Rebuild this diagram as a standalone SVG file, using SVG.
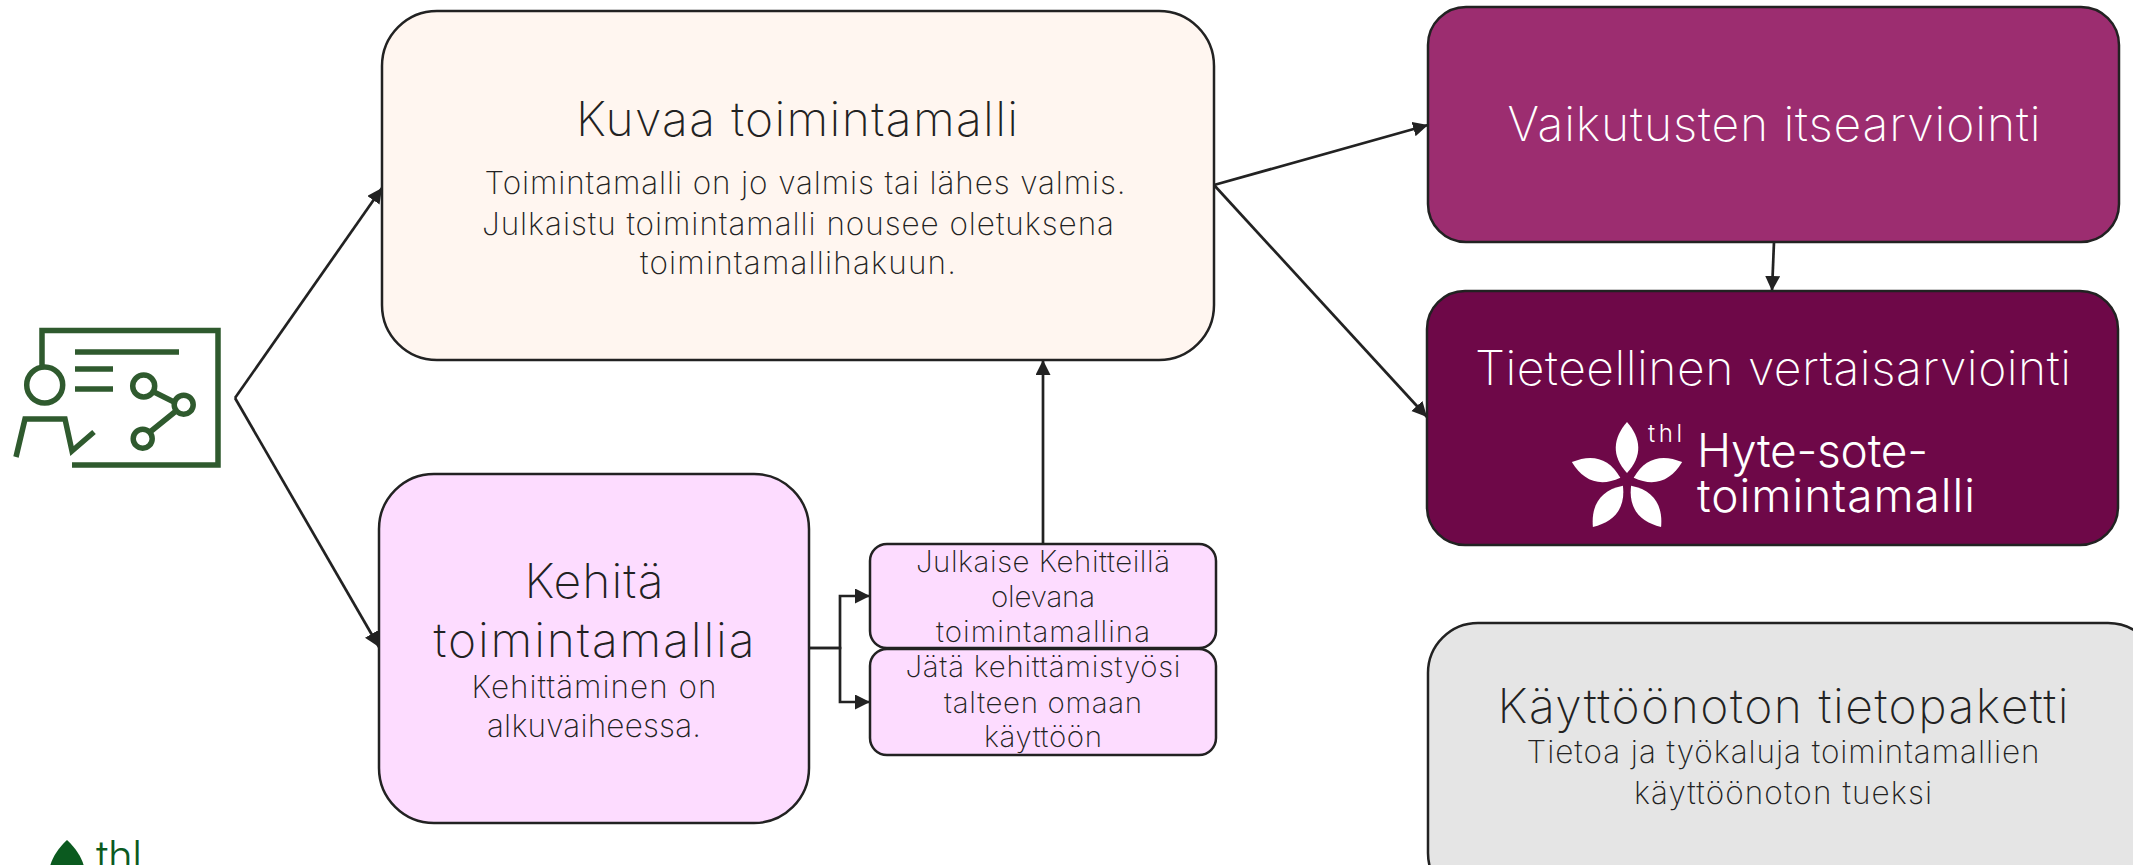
<svg xmlns="http://www.w3.org/2000/svg" width="2133" height="865" viewBox="0 0 2133 865">
<defs>
<style>
text{font-family:"Inter","Liberation Sans",sans-serif;font-weight:200;text-anchor:middle;fill:#222}
.h{font-size:48px}.b{font-size:31.500px}.s{font-size:29.500px}
.w{fill:#fff}
.box{stroke:#222;stroke-width:2.5}
.c{fill:none;stroke:#222;stroke-width:2.7}
.ic{fill:none;stroke:#2f5a2e;stroke-width:5.5}
.logo{text-anchor:start;font-weight:300}
</style>
<marker id="arr" markerUnits="userSpaceOnUse" markerWidth="16" markerHeight="16" refX="15" refY="7.5" orient="auto"><path d="M0 0L15 7.5L0 15Z" fill="#222"/></marker>
<path id="petal" d="M0 -7C-16 -24 -14 -42 0 -58C14 -42 16 -24 0 -7Z" fill="#fff"/>
</defs>
<rect width="2133" height="865" fill="#fff"/>
<g id="connectors">
<path class="c" d="M235 398L379 647" marker-end="url(#arr)"/>
<path class="c" d="M235 398L382 188" marker-end="url(#arr)"/>
<path class="c" d="M1214 185L1428 125" marker-end="url(#arr)"/>
<path class="c" d="M1214 185L1427 417" marker-end="url(#arr)"/>
<path class="c" d="M1774 242L1772 291" marker-end="url(#arr)"/>
<path class="c" d="M1043 544V360" marker-end="url(#arr)"/>
<path class="c" d="M809 648H840V596H870" marker-end="url(#arr)"/>
<path class="c" d="M809 648H840V702H870" marker-end="url(#arr)"/>
</g>
<g id="icon">
<path class="ic" d="M42 366V330.500H218V465H72"/>
<circle class="ic" cx="44.700" cy="385" r="18"/>
<path class="ic" d="M75 352H179M75 369H113M75 389H113"/>
<circle class="ic" cx="143.700" cy="386" r="11"/>
<circle class="ic" cx="183.700" cy="404.700" r="9.500"/>
<circle class="ic" cx="142.700" cy="438.700" r="9.500"/>
<path class="ic" d="M154 392L174 402M176 411L150 432"/>
<path class="ic" d="M16 457L25 419H65L72 451L94 432"/>
</g>
<g id="kuvaa">
<rect class="box" x="382" y="11" width="832" height="349" rx="55" fill="#fff6f0"/>
<text class="h" x="797" y="136" textLength="442">Kuvaa toimintamalli</text>
<text class="b" x="805" y="194" textLength="641">Toimintamalli on jo valmis tai lähes valmis.</text>
<text class="b" x="798" y="235" textLength="632">Julkaistu toimintamalli nousee oletuksena</text>
<text class="b" x="798" y="274" textLength="316">toimintamallihakuun.</text>
</g>
<g id="kehita">
<rect class="box" x="379" y="474" width="430" height="349" rx="55" fill="#fddcff"/>
<text class="h" x="594" y="598" textLength="139">Kehitä</text>
<text class="h" x="594" y="657" textLength="321">toimintamallia</text>
<text class="b" x="594" y="698" textLength="245">Kehittäminen on</text>
<text class="b" x="594" y="737" textLength="214">alkuvaiheessa.</text>
</g>
<g id="julkaise">
<rect class="box" x="870" y="544" width="346" height="104" rx="17" fill="#fddcff"/>
<text class="s" x="1043" y="572" textLength="254">Julkaise Kehitteillä</text>
<text class="s" x="1043" y="607" textLength="104">olevana</text>
<text class="s" x="1043" y="642" textLength="214">toimintamallina</text>
</g>
<g id="jata">
<rect class="box" x="870" y="649" width="346" height="106" rx="17" fill="#fddcff"/>
<text class="s" x="1043" y="677" textLength="275">Jätä kehittämistyösi</text>
<text class="s" x="1043" y="713" textLength="198">talteen omaan</text>
<text class="s" x="1043" y="747" textLength="118">käyttöön</text>
</g>
<g id="vaikutusten">
<rect class="box" x="1428" y="7" width="691" height="235" rx="38" fill="#9c2d70"/>
<text class="h w" x="1774" y="141" textLength="533">Vaikutusten itsearviointi</text>
</g>
<g id="tieteellinen">
<rect class="box" x="1427" y="291" width="691" height="254" rx="38" fill="#6e0848"/>
<text class="h w" x="1773" y="385" textLength="596">Tieteellinen vertaisarviointi</text>
<g transform="translate(1627 480)"><use href="#petal"/><use href="#petal" transform="rotate(72)"/><use href="#petal" transform="rotate(144)"/><use href="#petal" transform="rotate(216)"/><use href="#petal" transform="rotate(288)"/></g>
<text class="w logo" x="1648" y="442" style="font-size:24px" textLength="34">thl</text>
<text class="w logo" x="1697" y="467" style="font-size:46px" textLength="231">Hyte-sote-</text>
<text class="w logo" x="1697" y="512" style="font-size:46px" textLength="278">toimintamalli</text>
</g>
<g id="kayttoonotto">
<rect class="box" x="1428" y="623" width="730" height="280" rx="50" fill="#e5e5e5"/>
<text class="h" x="1783" y="723" textLength="571">Käyttöönoton tietopaketti</text>
<text class="b" x="1783" y="763" textLength="513">Tietoa ja työkaluja toimintamallien</text>
<text class="b" x="1783" y="804" textLength="298">käyttöönoton tueksi</text>
</g>
<g id="thl-logo">
<path d="M67 840C50 856 46 872 50 890H84C88 872 84 856 67 840Z" fill="#0b5a1f"/>
<text x="96" y="871" style="font-size:42px;text-anchor:start;fill:#0b5a1f;font-weight:300" textLength="46">thl</text>
</g>
</svg>
